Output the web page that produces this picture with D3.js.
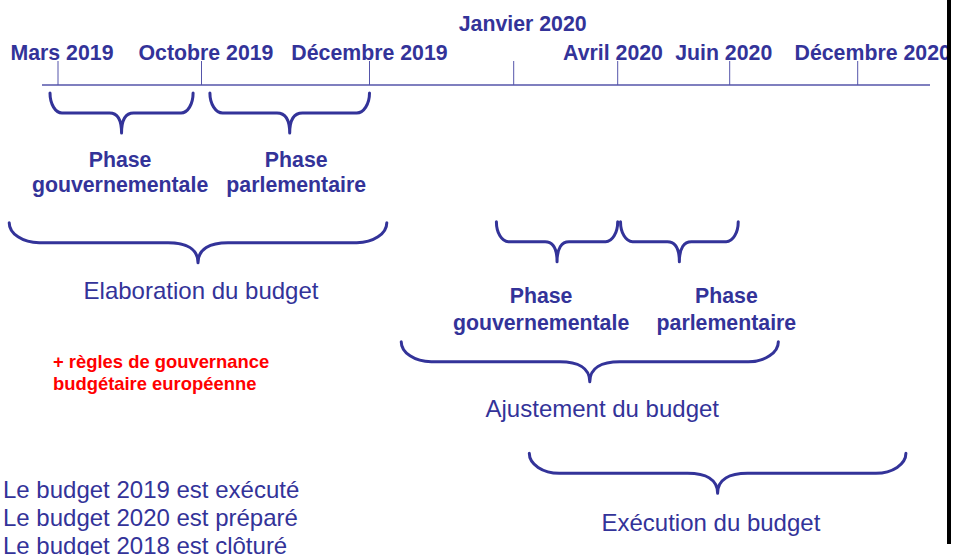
<!DOCTYPE html>
<meta charset="utf-8">

<!-- Load d3.js -->
<script src="https://d3js.org/d3.v7.min.js"></script>

<style>
  body { margin: 0; background: #fff; }
  text { font-family: "Liberation Sans", Arial, sans-serif; fill: #333399; }
</style>

<svg id="my_dataviz" width="953" height="555"></svg>

<script>

// Timeline ticks (months counted from March 2019)
var tickLabels = ["Mars 2019", "Octobre 2019", "Décembre 2019", "Janvier 2020", "Avril 2020", "Juin 2020", "Décembre 2020"];
var tickMonths = [0, 7, 9, 10, 13, 15, 21];

// Braces: label, start and end (in months), row
var braceLabels = ["Phase\ngouvernementale", "Phase\nparlementaire", "Elaboration du budget",
                   "Phase\ngouvernementale", "Phase\nparlementaire", "Ajustement du budget", "Exécution du budget"];
var braceStart  = [-0.39, 7.10, -2.38, 9.88, 13.05, 9.22, 10.45];
var braceEnd    = [6.59, 9.0, 9.12, 13.0, 15.40, 17.28, 23.26];
var braceRow    = ["phase1", "phase1", "main1", "phase2", "phase2", "main2", "main3"];
var braceBold   = [true, true, false, true, true, false, false];

var noteLines  = ["+ règles de gouvernance", "budgétaire européenne"];
var statusLines = ["Le budget 2019 est exécuté", "Le budget 2020 est préparé", "Le budget 2018 est clôturé"];

// The svg
var svg = d3.select("svg");

// the slide timeline is not linear in time: piecewise scale
var x = d3.scaleLinear()
  .domain(tickMonths)
  .range([58, 201.5, 369.5, 513.7, 617.7, 729.7, 857.7]);

var rowY = d3.scaleOrdinal()
  .domain(["phase1", "main1", "phase2", "main2", "main3"])
  .range([93, 222.7, 221.7, 341.7, 453.3]);

var labelShift = [4, 4.5, 0, 9, -4.7, -6, 15];
// brace label placement relative to the brace tip
var braceLabelDx = [-1.5, 6.5, 3, -16, 47, 12.5, -6.7];
var braceLabelDy = [33.7, 33.7, 36, 41.5, 41.5, 35.5, 37.7];
var braceLineGap = [25, 25, 0, 26.6, 26.6, 0, 0];
var braceH = 40;

// axis line
svg.append("line")
  .attr("x1", 42).attr("x2", 930)
  .attr("y1", 85).attr("y2", 85)
  .attr("stroke", "#5555aa").attr("stroke-width", 1.6);

// ticks
svg.append("g")
  .selectAll("line")
  .data(tickMonths)
  .enter()
  .append("line")
    .attr("x1", d => x(d)).attr("x2", d => x(d))
    .attr("y1", 61).attr("y2", 85)
    .attr("stroke", "#5555aa").attr("stroke-width", 1);

svg.append("g")
  .selectAll("text")
  .data(tickLabels)
  .enter()
  .append("text")
    .attr("x", (d, i) => x(tickMonths[i]) + labelShift[i])
    .attr("y", (d, i) => i == 3 ? 31 : 60)
    .attr("text-anchor", "middle")
    .attr("font-weight", "bold")
    .attr("font-size", 21.3)
    .text(d => d);

// curly brace, opening upwards
function bracePath(x0, x1, top) {
  var xm = (x0 + x1) / 2, ym = top + braceH / 2, yb = top + braceH;
  var r = Math.max(12, Math.min(30, (x1 - x0) * 0.08));
  var p = d3.path();
  p.moveTo(x0, top);
  p.bezierCurveTo(x0, top + 0.55 * (ym - top), x0 + 0.45 * r, ym, x0 + r, ym);
  p.lineTo(xm - r, ym);
  p.bezierCurveTo(xm - 0.4 * r, ym, xm, ym + 0.3 * (yb - ym), xm, yb);
  p.bezierCurveTo(xm, ym + 0.3 * (yb - ym), xm + 0.4 * r, ym, xm + r, ym);
  p.lineTo(x1 - r, ym);
  p.bezierCurveTo(x1 - 0.45 * r, ym, x1, top + 0.55 * (ym - top), x1, top);
  return p.toString();
}

var braces = braceLabels.map(function(d, i) {
  return { label: d, x0: x(braceStart[i]), x1: x(braceEnd[i]), top: rowY(braceRow[i]), bold: braceBold[i],
           dx: braceLabelDx[i], dy: braceLabelDy[i], gap: braceLineGap[i] };
});

svg.append("g")
  .selectAll("path")
  .data(braces)
  .enter()
  .append("path")
    .attr("d", d => bracePath(d.x0, d.x1, d.top))
    .attr("fill", "none")
    .attr("stroke", "#333399")
    .attr("stroke-width", 3)
    .attr("stroke-linecap", "round")
    .attr("stroke-linejoin", "round");

// brace labels
var lbl = svg.append("g")
  .selectAll("text")
  .data(braces)
  .enter()
  .append("text")
    .attr("text-anchor", "middle")
    .attr("font-weight", d => d.bold ? "bold" : "normal")
    .attr("font-size", d => d.bold ? 21.3 : 24)
    .attr("transform", d => "translate(" + ((d.x0 + d.x1) / 2 + d.dx) + "," + (d.top + braceH + d.dy) + ")");

lbl.selectAll("tspan")
  .data(d => d.label.split("\n").map(t => ({ t: t, gap: d.gap })))
  .enter()
  .append("tspan")
    .attr("x", 0)
    .attr("dy", (d, i) => i == 0 ? 0 : d.gap)
    .text(d => d.t);

// red note
svg.append("g")
  .selectAll("text")
  .data(noteLines)
  .enter()
  .append("text")
    .attr("x", 53)
    .attr("y", (d, i) => 368 + i * 21.7)
    .attr("font-weight", "bold")
    .attr("font-size", 18.4)
    .style("fill", "#ff0000")
    .text(d => d);

// status lines bottom left
svg.append("g")
  .selectAll("text")
  .data(statusLines)
  .enter()
  .append("text")
    .attr("x", 3)
    .attr("y", (d, i) => 497.5 + i * 28.3)
    .attr("font-size", 24)
    .text(d => d);

// right edge bar
svg.append("rect")
  .attr("x", 947).attr("y", 0)
  .attr("width", 4).attr("height", 544)
  .attr("fill", "#000");

</script>
